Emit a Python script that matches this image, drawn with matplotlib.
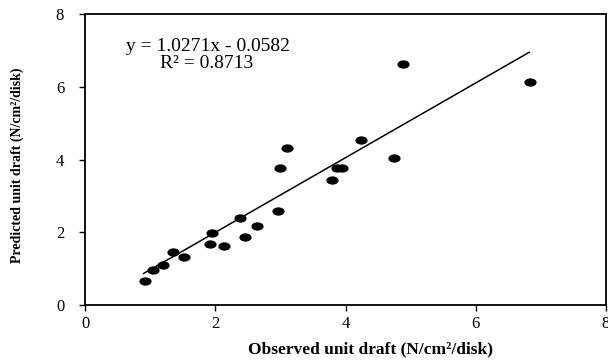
import matplotlib
matplotlib.use("Agg")
import matplotlib.pyplot as plt
import numpy as np
from matplotlib.path import Path
from matplotlib.transforms import Affine2D

# Data
observed = [0.92, 1.05, 1.20, 1.35, 1.52, 1.92, 1.95, 2.13, 2.38, 2.46, 2.64,
            2.96, 2.99, 3.10, 3.80, 3.87, 3.94, 4.24, 4.74, 4.88, 6.83]
predicted = [0.67, 0.96, 1.11, 1.45, 1.33, 1.68, 1.98, 1.61, 2.39, 1.86, 2.17,
             2.58, 3.76, 4.31, 3.45, 3.76, 3.76, 4.54, 4.03, 6.63, 6.13]
slope = 1.0271
intercept = -0.0582
r2 = 0.8713
fit_range = [0.90, 6.82]
ticks = [0, 2, 4, 6, 8]

plt.rcParams['font.family'] = ['Liberation Serif', 'DejaVu Serif']

fig = plt.figure(figsize=(6.08, 3.6), dpi=100)
ax = fig.add_axes([85/608, 1-305/360, (606-85)/608, (305-14)/360])

ell = Path.unit_circle().transformed(Affine2D().scale(1.0, 0.68))
ax.plot(observed, predicted, linestyle='none', marker=ell, markersize=8.8,
        color='black', markeredgewidth=0)

xf = np.array(fit_range)
ax.plot(xf, slope*xf + intercept, color='black', linewidth=1.1)

ax.set_xlim(0, 8)
ax.set_ylim(0, 8)
ax.set_xticks(ticks)
ax.set_yticks(ticks)
ax.tick_params(axis='both', direction='out', length=4, width=1, labelsize=12,
               colors='black')
ax.tick_params(axis='y', pad=11)
ax.tick_params(axis='x', pad=4)
for s in ax.spines.values():
    s.set_linewidth(1.3)
    s.set_color('black')

ax.text(1.89, 7.11, f"y = {slope}x - {abs(intercept)}", ha='center', va='center',
        fontsize=14)
ax.text(1.86, 6.65, f"R² = {r2}", ha='center', va='center', fontsize=14)

ax.set_xlabel("Observed unit draft (N/cm²/disk)", fontsize=12.5, fontweight='bold')
ax.set_ylabel("Predicted unit draft (N/cm²/disk)", fontsize=10, fontweight='bold')
ax.xaxis.label.set_va('center')
ax.yaxis.label.set_va('center')
ax.xaxis.set_label_coords((371-85)/521, -(349-305)/291)
ax.yaxis.set_label_coords(-(85-17)/521, (305-165)/291)

fig.savefig("out.png", dpi=100)
